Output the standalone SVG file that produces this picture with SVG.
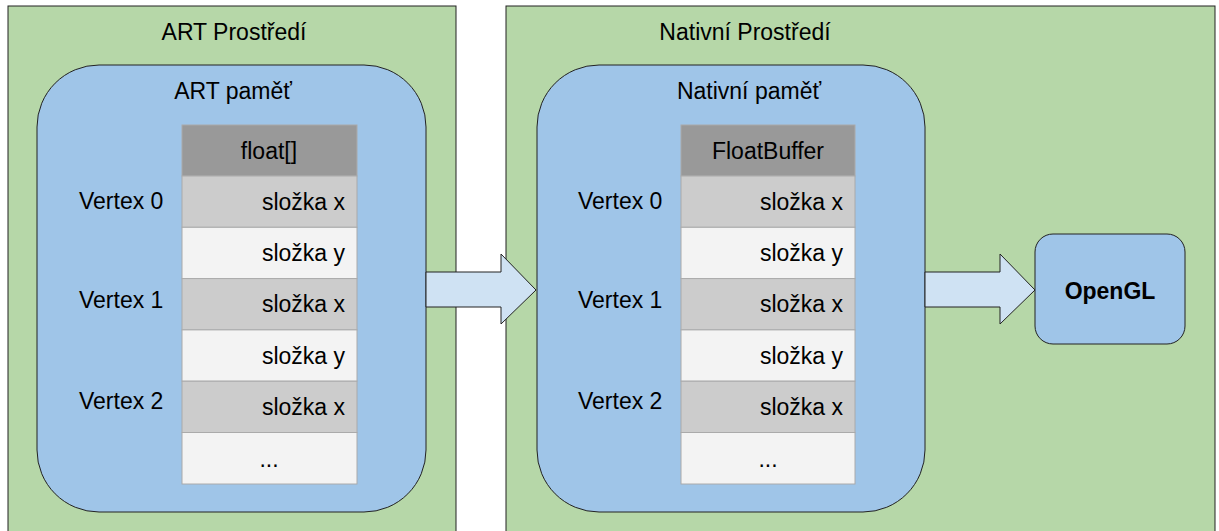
<svg xmlns="http://www.w3.org/2000/svg" width="1219" height="531" viewBox="0 0 1219 531">
<style>
text{font-family:"Liberation Sans",Arial,sans-serif;font-size:23px;fill:#000}
.env{fill:#b6d7a8;stroke:#222;stroke-width:1}
.mem{fill:#9fc5e8;stroke:#222;stroke-width:1}
.hd{fill:#999999;stroke:#aaa;stroke-width:1}
.dk{fill:#cccccc;stroke:#aaa;stroke-width:1}
.lt{fill:#f3f3f3;stroke:#aaa;stroke-width:1}
.arr{fill:#cfe2f3;stroke:#222;stroke-width:1}
.c{text-anchor:middle}
.r{text-anchor:end}
</style>
<rect width="1219" height="531" fill="#fff"/>
<g id="art-env">
<rect class="env" x="8" y="6" width="448" height="540"/>
<text class="c" x="234" y="40">ART Prostředí</text>
</g>
<g id="native-env">
<rect class="env" x="506" y="6" width="709" height="540"/>
<text class="c" x="745" y="40">Nativní Prostředí</text>
</g>
<g id="art-mem">
<rect class="mem" x="37" y="65" width="389" height="447" rx="62" ry="62"/>
<text class="c" x="233" y="99">ART paměť</text>
</g>
<g id="native-mem">
<rect class="mem" x="537" y="65" width="388" height="447" rx="62" ry="62"/>
<text class="c" x="749" y="99">Nativní paměť</text>
</g>
<g id="art-table">
<rect class="hd" x="182" y="125" width="175" height="51"/>
<rect class="dk" x="182" y="176" width="175" height="51.3"/>
<rect class="lt" x="182" y="227.3" width="175" height="51.3"/>
<rect class="dk" x="182" y="278.6" width="175" height="51.3"/>
<rect class="lt" x="182" y="329.9" width="175" height="51.3"/>
<rect class="dk" x="182" y="381.2" width="175" height="51.3"/>
<rect class="lt" x="182" y="432.5" width="175" height="51.5"/>
<text class="c" x="269" y="159">float[]</text>
<text class="r" x="345" y="210">složka x</text>
<text class="r" x="345" y="261">složka y</text>
<text class="r" x="345" y="312">složka x</text>
<text class="r" x="345" y="364">složka y</text>
<text class="r" x="345" y="415">složka x</text>
<text class="c" x="269" y="467">...</text>
<text x="79" y="209">Vertex 0</text>
<text x="79" y="308">Vertex 1</text>
<text x="79" y="409">Vertex 2</text>
</g>
<g id="native-table">
<rect class="hd" x="681" y="125" width="174" height="51"/>
<rect class="dk" x="681" y="176" width="174" height="51.3"/>
<rect class="lt" x="681" y="227.3" width="174" height="51.3"/>
<rect class="dk" x="681" y="278.6" width="174" height="51.3"/>
<rect class="lt" x="681" y="329.9" width="174" height="51.3"/>
<rect class="dk" x="681" y="381.2" width="174" height="51.3"/>
<rect class="lt" x="681" y="432.5" width="174" height="51.5"/>
<text class="c" x="768" y="159">FloatBuffer</text>
<text class="r" x="843" y="210">složka x</text>
<text class="r" x="843" y="261">složka y</text>
<text class="r" x="843" y="312">složka x</text>
<text class="r" x="843" y="364">složka y</text>
<text class="r" x="843" y="415">složka x</text>
<text class="c" x="768" y="467">...</text>
<text x="578" y="209">Vertex 0</text>
<text x="578" y="308">Vertex 1</text>
<text x="578" y="409">Vertex 2</text>
</g>
<g id="opengl">
<rect class="mem" x="1035" y="234" width="150" height="110" rx="18" ry="18"/>
<text class="c" x="1110" y="299" font-weight="bold">OpenGL</text>
</g>
<g id="connectors">
<path class="arr" d="M426,272 H501 V254 L536,290 L501,324 V307 H426 Z"/>
<path class="arr" d="M925,272 H1000 V254 L1035,290 L1000,324 V307 H925 Z"/>
</g>
</svg>
